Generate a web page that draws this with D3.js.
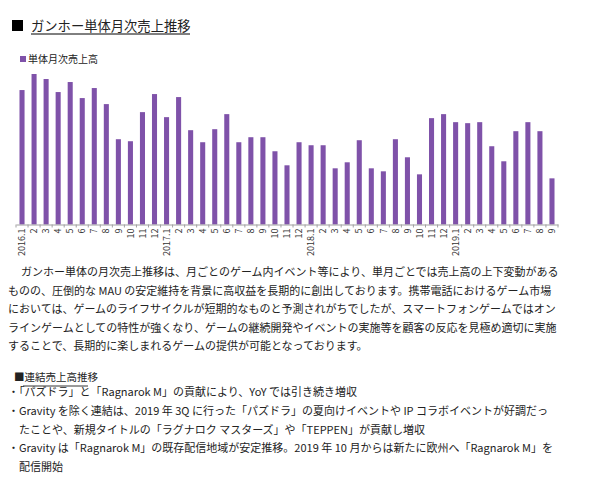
<!DOCTYPE html>
<html lang="ja">
<head>
<meta charset="UTF-8">
<title>ガンホー単体月次売上推移</title>
<script src="https://d3js.org/d3.v7.min.js"></script>
<style>
    body { margin: 0; background: #fff; }
    svg text { font-family: "Noto Sans CJK JP", "Noto Sans", sans-serif; fill: #222; }
</style>
</head>
<body>
<div id="chart"></div>
<script>
    // month labels (x axis)
    const months = ["2016.1","2","3","4","5","6","7","8","9","10","11","12",
                    "2017.1","2","3","4","5","6","7","8","9","10","11","12",
                    "2018.1","2","3","4","5","6","7","8","9","10","11","12",
                    "2019.1","2","3","4","5","6","7","8","9"];
    // monthly sales, relative units (no y axis in original)
    const sales = [134, 150, 145, 132, 142, 126, 136, 120, 85, 83, 112, 130,
                   107, 127, 94, 82, 95, 110, 82, 87, 87, 73, 59, 82,
                   79, 79, 56, 62, 84, 56, 53, 85, 67, 50, 106, 110,
                   102, 101, 102, 78, 63, 93, 102, 93, 46];
    const legendLabel = "単体月次売上高";
    const title = "ガンホー単体月次売上推移";

    const paragraph = [
        "ガンホー単体の月次売上推移は、月ごとのゲーム内イベント等により、単月ごとでは売上高の上下変動がある",
        "ものの、圧倒的な MAU の安定維持を背景に高収益を長期的に創出しております。携帯電話におけるゲーム市場",
        "においては、ゲームのライフサイクルが短期的なものと予測されがちでしたが、スマートフォンゲームではオン",
        "ラインゲームとしての特性が強くなり、ゲームの継続開発やイベントの実施等を顧客の反応を見極め適切に実施",
        "することで、長期的に楽しまれるゲームの提供が可能となっております。"
    ];
    const sectionTitle = "連結売上高推移";
    const bullets = [
        "・「パズドラ」と「Ragnarok M」の貢献により、YoY では引き続き増収",
        "・Gravity を除く連結は、2019 年 3Q に行った「パズドラ」の夏向けイベントや IP コラボイベントが好調だっ",
        "　たことや、新規タイトルの「ラグナロク マスターズ」や「TEPPEN」が貢献し増収",
        "・Gravity は「Ragnarok M」の既存配信地域が安定推移。2019 年 10 月からは新たに欧州へ「Ragnarok M」を",
        "　配信開始"
    ];

    const width = 590, height = 477;
    const purple = "#7f52a9";

    const svg = d3.select("#chart").append("svg")
        .attr("width", width)
        .attr("height", height);

    // title
    svg.append("rect").attr("x", 12).attr("y", 20).attr("width", 11).attr("height", 11).attr("fill", "#000");
    const t = svg.append("text").attr("x", 31).attr("y", 30.5)
        .style("font-size", "13.3px").text(title);
    svg.append("line").attr("x1", 31).attr("x2", 190).attr("y1", 34).attr("y2", 34)
        .attr("stroke", "#000").attr("stroke-width", 1);

    // legend
    svg.append("rect").attr("x", 20).attr("y", 56).attr("width", 6).attr("height", 6).attr("fill", purple);
    svg.append("text").attr("x", 28).attr("y", 62.5)
        .style("font-size", "10px").text(legendLabel);

    // chart
    const x0 = 16, x1 = 558, baseY = 224.5, topY = 74;
    const idx = d3.range(months.length);

    const x = d3.scaleBand()
        .domain(idx)
        .range([x0, x1])
        .paddingInner(0.58)
        .paddingOuter(0.29);

    const xEdge = d3.scaleBand().domain(idx).range([x0, x1]);

    const y = d3.scaleLinear()
        .domain([0, 150])
        .range([baseY, topY]);

    svg.selectAll("rect.bar")
        .data(sales)
        .join("rect")
        .attr("class", "bar")
        .attr("x", (d, i) => x(i))
        .attr("y", d => y(d))
        .attr("width", x.bandwidth())
        .attr("height", d => baseY - y(d))
        .attr("fill", purple);

    const axis = svg.append("g")
        .attr("transform", `translate(0,${baseY})`)
        .call(d3.axisBottom(x).tickSize(0).tickFormat(i => months[i]));
    axis.select(".domain").attr("stroke", "#a0a0a0");
    axis.selectAll("text")
        .attr("y", 0)
        .attr("x", -4)
        .attr("dy", "0.35em")
        .attr("transform", "rotate(-90)")
        .style("text-anchor", "end")
        .style("font-size", "9px")
        .style("fill", "#333");

    // small ticks on band edges
    svg.append("g").selectAll("line")
        .data(idx.concat([months.length]))
        .join("line")
        .attr("x1", i => i < months.length ? xEdge(i) : x1)
        .attr("x2", i => i < months.length ? xEdge(i) : x1)
        .attr("y1", baseY)
        .attr("y2", baseY + 3)
        .attr("stroke", "#a0a0a0");

    // paragraph
    svg.append("g").selectAll("text")
        .data(paragraph)
        .join("text")
        .attr("x", (d, i) => i === 0 ? 21 : 8)
        .attr("y", (d, i) => 276 + i * 18.6)
        .style("font-size", "11px")
        .text(d => d);

    // section heading
    svg.append("text").attr("x", 14).attr("y", 381)
        .style("font-size", "10.5px")
        .text("■" + sectionTitle);
    svg.append("line").attr("x1", 23).attr("x2", 88).attr("y1", 386).attr("y2", 386)
        .attr("stroke", "#000").attr("stroke-width", 0.8);

    svg.append("g").selectAll("text")
        .data(bullets)
        .join("text")
        .attr("x", 8)
        .attr("y", (d, i) => 396 + i * 18.8)
        .style("font-size", "11px")
        .text(d => d);
</script>
</body>
</html>
